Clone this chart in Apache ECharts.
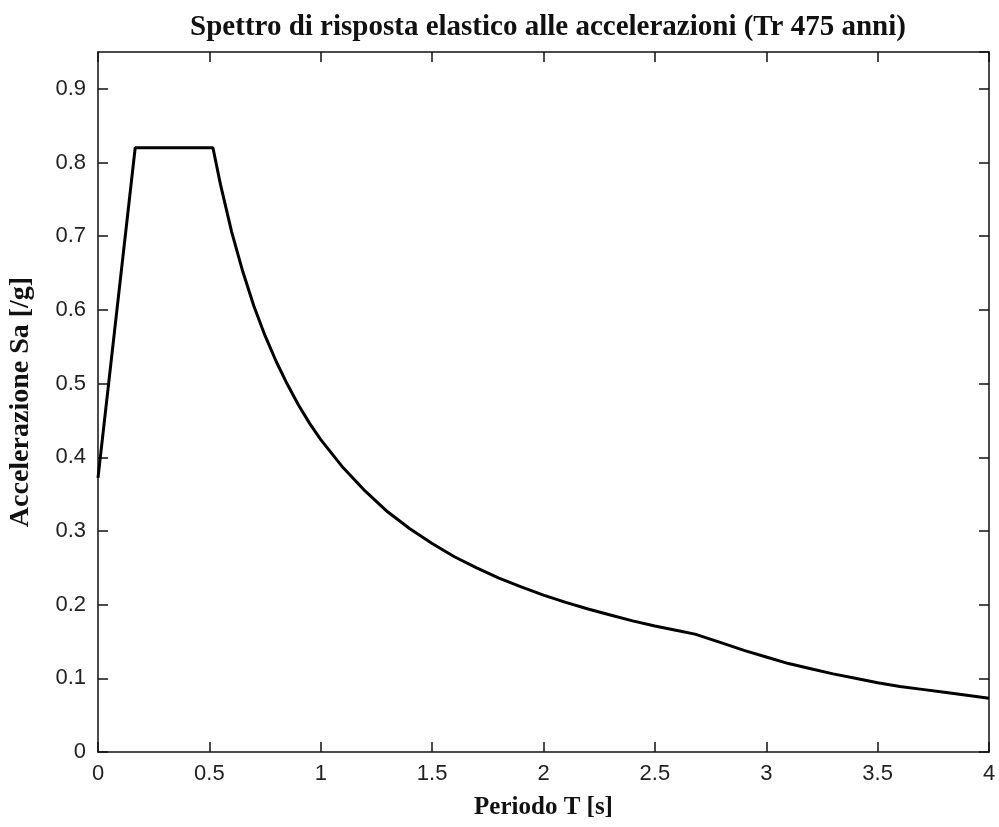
<!DOCTYPE html>
<html>
<head>
<meta charset="utf-8">
<script src="https://cdn.jsdelivr.net/npm/echarts@6/dist/echarts.min.js"></script>
<style>
html,body{margin:0;padding:0;background:#fff;}
#chart{width:999px;height:827px;}
</style>
</head>
<body>
<div id="chart"></div>
<script>
var titleText = 'Spettro di risposta elastico alle accelerazioni (Tr 475 anni)';
var xName = 'Periodo T [s]';
var yName = 'Accelerazione Sa [/g]';
var periods = [0, 0.167, 0.516, 0.55, 0.6, 0.65, 0.7, 0.75, 0.8, 0.85, 0.9, 0.95, 1.0, 1.1, 1.2, 1.3, 1.4, 1.5, 1.6, 1.7, 1.8, 1.9, 2.0, 2.1, 2.2, 2.3, 2.4, 2.5, 2.6, 2.68, 2.8, 2.9, 3.0, 3.1, 3.2, 3.3, 3.4, 3.5, 3.6, 3.7, 3.8, 3.9, 4.0];
var accel = [0.372, 0.82, 0.82, 0.77, 0.706, 0.652, 0.605, 0.565, 0.53, 0.499, 0.471, 0.446, 0.424, 0.386, 0.354, 0.326, 0.303, 0.283, 0.265, 0.25, 0.236, 0.224, 0.213, 0.203, 0.194, 0.186, 0.178, 0.171, 0.165, 0.16, 0.148, 0.138, 0.129, 0.12, 0.113, 0.106, 0.1, 0.094, 0.089, 0.085, 0.081, 0.077, 0.073];
var xTicks = [0, 0.5, 1, 1.5, 2, 2.5, 3, 3.5, 4];
var yTicks = [0, 0.1, 0.2, 0.3, 0.4, 0.5, 0.6, 0.7, 0.8, 0.9];

var data = periods.map(function (t, i) { return [t, accel[i]]; });
var chart = echarts.init(document.getElementById('chart'), null, {renderer: 'canvas'});
var labelFont = {fontFamily: 'Liberation Sans', fontSize: 22, color: '#222'};
var axLine = {show: true, onZero: false, lineStyle: {color: '#111', width: 1.5}};
var tick = {show: true, inside: true, length: 10, lineStyle: {color: '#111', width: 1.5}};
function xFmt(v) { var r = Math.round(v * 100) / 100; return xTicks.indexOf(r) >= 0 ? String(r) : ''; }
function yFmt(v) { var r = Math.round(v * 100) / 100; return yTicks.indexOf(r) >= 0 ? String(r) : ''; }
chart.setOption({
  animation: false,
  backgroundColor: '#fff',
  title: {
    text: titleText, left: 543, top: 8, textAlign: 'center',
    textStyle: {fontFamily: 'Liberation Serif', fontWeight: 'bold', fontSize: 29, color: '#111'}
  },
  grid: {left: 98, right: 10, top: 52, bottom: 75, containLabel: false, outerBoundsMode: 'none'},
  xAxis: [{
    type: 'value', min: 0, max: 4, interval: 0.5, position: 'bottom',
    name: xName, nameLocation: 'middle', nameGap: 43,
    nameTextStyle: {fontFamily: 'Liberation Serif', fontWeight: 'bold', fontSize: 25, color: '#111'},
    axisLine: axLine, axisTick: tick, splitLine: {show: false},
    axisLabel: Object.assign({margin: 11, formatter: xFmt}, labelFont)
  }, {
    type: 'value', min: 0, max: 4, interval: 0.5, position: 'top',
    axisLine: axLine, axisTick: tick, splitLine: {show: false}, axisLabel: {show: false}
  }],
  yAxis: [{
    type: 'value', min: 0, max: 0.95, interval: 0.1, position: 'left',
    name: yName, nameLocation: 'middle', nameGap: 63, nameRotate: 90,
    nameTextStyle: {fontFamily: 'Liberation Serif', fontWeight: 'bold', fontSize: 28, color: '#111'},
    axisLine: axLine, axisTick: tick, splitLine: {show: false},
    axisLabel: Object.assign({margin: 12, formatter: yFmt, showMaxLabel: false}, labelFont)
  }, {
    type: 'value', min: 0, max: 0.95, interval: 0.1, position: 'right',
    axisLine: axLine, axisTick: tick, splitLine: {show: false}, axisLabel: {show: false}
  }],
  series: [{
    type: 'line', xAxisIndex: 0, yAxisIndex: 0, data: data,
    showSymbol: false, symbol: 'none', smooth: false,
    lineStyle: {color: '#000', width: 3}
  }]
});
</script>
</body>
</html>
